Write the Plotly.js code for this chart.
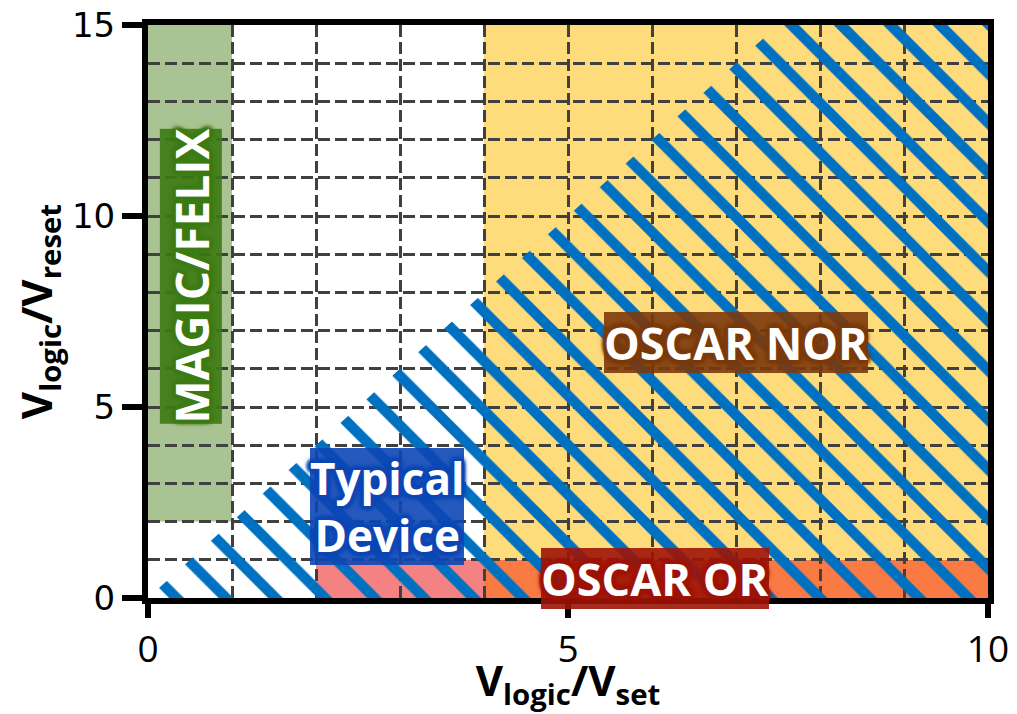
<!DOCTYPE html>
<html><head><meta charset="utf-8">
<script src="https://cdn.plot.ly/plotly-3.0.1.min.js"></script>
<style>html,body{margin:0;padding:0;background:#fff}#chart{width:1017px;height:714px}</style>
</head><body><div id="chart"></div>
<script>
// ---- data ----
const regionNames = ['MAGIC/FELIX', 'Typical/OR overlap', 'OSCAR OR', 'OSCAR NOR'];
const regionX0 = [0, 2, 4, 4];
const regionX1 = [1, 4, 10, 10];
const regionY0 = [2, 0, 0, 1];
const regionY1 = [15, 1, 1, 15];
const deviceX = [0, 7.5, 10, 10, 0];
const deviceY = [0, 15, 15, 0, 0];
const labelText = ['MAGIC/FELIX', 'Typical<br>Device', 'OSCAR NOR', 'OSCAR OR'];
const labelX = [0.51, 2.85, 7.0, 6.04];
const labelY = [8.43, 2.4, 6.68, 0.52];
const xTicks = [0, 5, 10];
const yTicks = [0, 5, 10, 15];

// ---- styles ----
const glowColors = ['#3d7b14', '#0d47b5', '#7c3a0c', '#9e1408'];
const glowBg = ['rgba(61,123,20,0.9)', 'rgba(13,71,181,0.9)', 'rgba(124,58,12,0.9)', 'rgba(158,20,8,0.9)'];
const regionColors = ['#a9c492', '#f48282', '#f97a42', '#fedb7b'];
const labelSizes = [46, 44, 45, 45];
const labelAngles = [-90, 0, 0, 0];

function glow(c) {
  const s = [];
  [[4,0],[-4,0],[0,4],[0,-4],[3,3],[-3,-3],[3,-3],[-3,3]].forEach(o => {
    s.push(o[0] + 'px ' + o[1] + 'px 3px ' + c);
  });
  s.push('0 0 2px ' + c, '0 0 8px ' + c);
  return s.join(', ');
}

const shapes = regionNames.map((n, i) => ({
  type: 'rect', xref: 'x', yref: 'y', layer: 'below',
  x0: regionX0[i], x1: regionX1[i], y0: regionY0[i], y1: regionY1[i],
  fillcolor: regionColors[i], line: {width: 0}
}));

const annotations = labelText.map((t, i) => ({
  x: labelX[i], y: labelY[i], xref: 'x', yref: 'y', text: t, showarrow: false,
  textangle: labelAngles[i], bgcolor: glowBg[i], borderpad: 0, borderwidth: 0,
  font: {family: 'Open Sans, Noto Sans, sans-serif', size: labelSizes[i], color: '#ffffff',
         weight: 'bold', shadow: glow(glowColors[i])}
}));

const traces = [{
  type: 'scatter', mode: 'lines', x: deviceX, y: deviceY, fill: 'toself',
  fillcolor: 'rgba(0,0,0,0)', line: {width: 0}, hoverinfo: 'skip', showlegend: false,
  fillpattern: {shape: '\\', fgcolor: '#0070c0', bgcolor: 'rgba(0,0,0,0)', size: 35, solidity: 0.3}
}];

const gridStyle = {gridcolor: '#404040', gridwidth: 3, griddash: '12px,5px'};

const layout = {
  width: 1017, height: 714,
  margin: {l: 148, r: 29, t: 25, b: 116},
  paper_bgcolor: '#ffffff', plot_bgcolor: '#ffffff',
  showlegend: false,
  xaxis: Object.assign({
    range: [0, 10], tickmode: 'array', tickvals: xTicks, ticktext: xTicks.map(String),
    ticks: 'outside', ticklen: 14, tickwidth: 6, tickcolor: '#000',
    showline: true, linewidth: 6, linecolor: '#000', mirror: true,
    showgrid: true, zeroline: false,
    minor: Object.assign({dtick: 1, tick0: 0, showgrid: true, ticks: ''}, gridStyle),
    tickfont: {family: 'Liberation Sans Narrow, Open Sans, sans-serif', size: 37, color: '#000'},
    title: {text: '<b>V<sub>logic</sub>/V<sub>set</sub></b>', standoff: 12,
            font: {family: 'Open Sans, sans-serif', size: 42, color: '#000'}}
  }, gridStyle),
  yaxis: Object.assign({
    range: [0, 15], tickmode: 'array', tickvals: yTicks, ticktext: yTicks.map(String),
    ticks: 'outside', ticklen: 20, tickwidth: 6, tickcolor: '#000',
    showline: true, linewidth: 6, linecolor: '#000', mirror: true,
    showgrid: true, zeroline: false,
    minor: Object.assign({dtick: 1, tick0: 0, showgrid: true, ticks: ''}, gridStyle),
    tickfont: {family: 'DejaVu Sans, sans-serif', size: 34, color: '#000'},
    title: {text: '<b>V<sub>logic</sub>/V<sub>reset</sub></b>', standoff: 8,
            font: {family: 'Open Sans, sans-serif', size: 42, color: '#000'}}
  }, gridStyle),
  shapes: shapes,
  annotations: annotations
};

Plotly.newPlot('chart', traces, layout, {displayModeBar: false, staticPlot: true});
</script>
</body></html>
